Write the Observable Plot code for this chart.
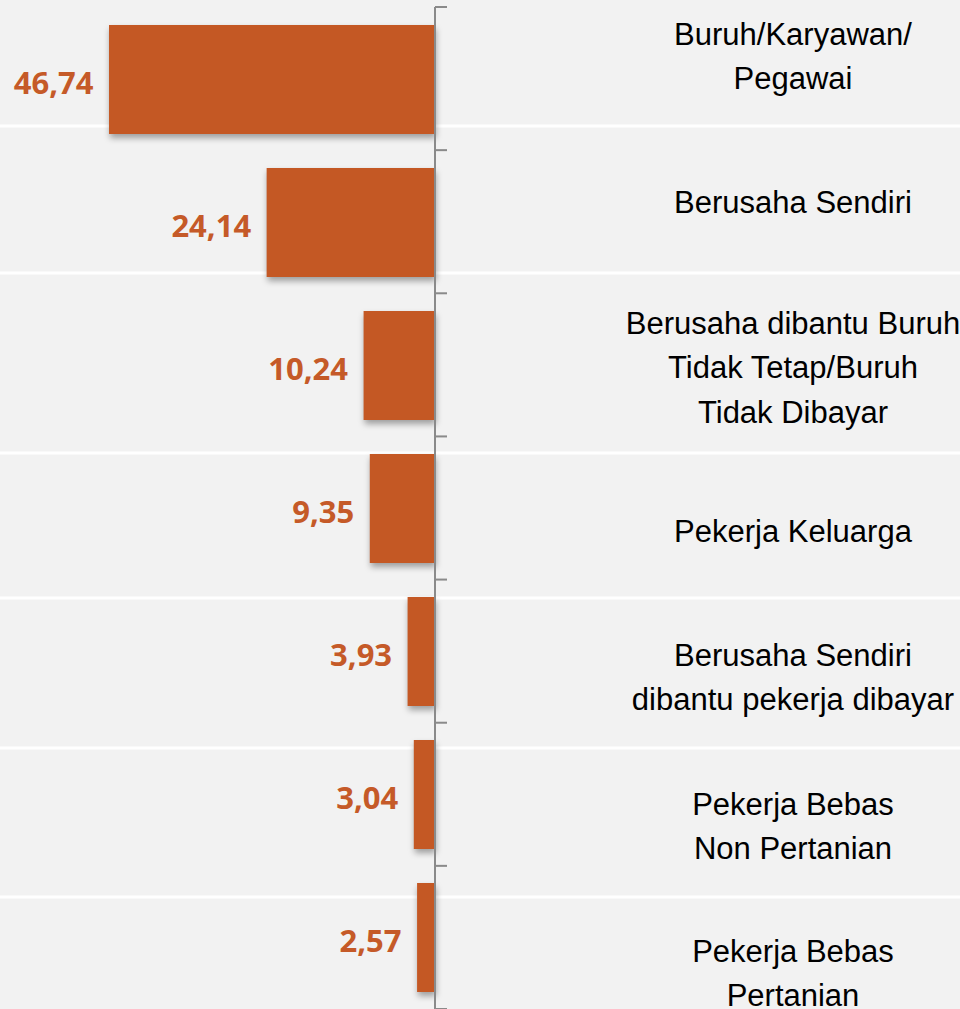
<!DOCTYPE html>
<html>
<head>
<meta charset="utf-8">
<script src="https://cdn.jsdelivr.net/npm/d3@7"></script>
<script src="https://cdn.jsdelivr.net/npm/@observablehq/plot@0.6"></script>
<style>
html, body { margin: 0; padding: 0; background: #f2f2f2; overflow: hidden; }
#chart svg { display: block; }
g[aria-label="bar"] { filter: drop-shadow(1px 4px 3px rgba(0,0,0,0.35)); }
</style>
</head>
<body>
<div id="chart"></div>
<script>
// ---- data ----
const categories = [
  "Buruh/Karyawan/Pegawai",
  "Berusaha Sendiri",
  "Berusaha dibantu Buruh Tidak Tetap/Buruh Tidak Dibayar",
  "Pekerja Keluarga",
  "Berusaha Sendiri dibantu pekerja dibayar",
  "Pekerja Bebas Non Pertanian",
  "Pekerja Bebas Pertanian"
];
const categoryLabels = [
  "Buruh/Karyawan/\nPegawai",
  "Berusaha Sendiri",
  "Berusaha dibantu Buruh\nTidak Tetap/Buruh\nTidak Dibayar",
  "Pekerja Keluarga",
  "Berusaha Sendiri\ndibantu pekerja dibayar",
  "Pekerja Bebas\nNon Pertanian",
  "Pekerja Bebas\nPertanian"
];
const values = [46.74, 24.14, 10.24, 9.35, 3.93, 3.04, 2.57];
const valueLabels = ["46,74", "24,14", "10,24", "9,35", "3,93", "3,04", "2,57"];

// ---- layout (pixels / styles, not data) ----
const LAYOUT = {
  separatorY: [126, 273, 453, 598, 748, 897],
  labelDy: [-27, -24, -2, 19, 22, 28, 32],
  labelDx: 357.5
};

const data = categories.map((c, i) => ({
  category: c, value: values[i], label: valueLabels[i], text: categoryLabels[i]
}));

const separators = (index, scales, values, dims) => {
  const g = d3.create("svg:g");
  LAYOUT.separatorY.forEach(y => {
    g.append("line").attr("x1", 0).attr("x2", dims.width)
      .attr("y1", y).attr("y2", y)
      .attr("stroke", "#ffffff").attr("stroke-width", 3);
  });
  return g.node();
};

const axisMark = (index, scales, values, dims) => {
  const g = d3.create("svg:g").attr("stroke", "#8a8a8a").attr("stroke-width", 2);
  const x0 = scales.x(0);
  const top = dims.marginTop, bottom = dims.height - dims.marginBottom;
  const step = (bottom - top) / categories.length;
  g.append("line").attr("x1", x0).attr("x2", x0).attr("y1", top).attr("y2", bottom);
  d3.range(categories.length + 1).forEach(i => {
    const y = top + i * step;
    g.append("line").attr("x1", x0).attr("x2", x0 + 12).attr("y1", y).attr("y2", y);
  });
  return g.node();
};

const labelMarks = data.map((d, i) => Plot.text([d], {
  x: () => 0,
  y: "category",
  text: "text",
  dx: LAYOUT.labelDx,
  dy: LAYOUT.labelDy[i],
  textAnchor: "middle",
  lineAnchor: "middle",
  lineHeight: 1.43,
  fill: "#000000",
  fontSize: 31,
  fontFamily: "'Liberation Sans', Arial, sans-serif",
  letterSpacing: "-0.4px"
}));

const chart = Plot.plot({
  width: 960,
  height: 1009,
  marginLeft: 0,
  marginRight: 525,
  marginTop: 7,
  marginBottom: 0,
  style: { background: "#f2f2f2", overflow: "hidden" },
  x: { domain: [0, 62.37], reverse: true, axis: null },
  y: { domain: categories, paddingInner: 0.24, paddingOuter: 0.12, axis: null },
  marks: [
    separators,
    Plot.barX(data, { x: "value", y: "category", fill: "#c45824" }),
    axisMark,
    Plot.text(data, {
      x: "value", y: "category", text: "label",
      textAnchor: "end", dx: -16, dy: 4,
      fill: "#c55a28", fontSize: 31, fontWeight: "bold",
      fontFamily: "'Open Sans', 'Noto Sans', sans-serif"
    }),
    ...labelMarks
  ]
});
document.getElementById("chart").append(chart);
</script>
</body>
</html>
